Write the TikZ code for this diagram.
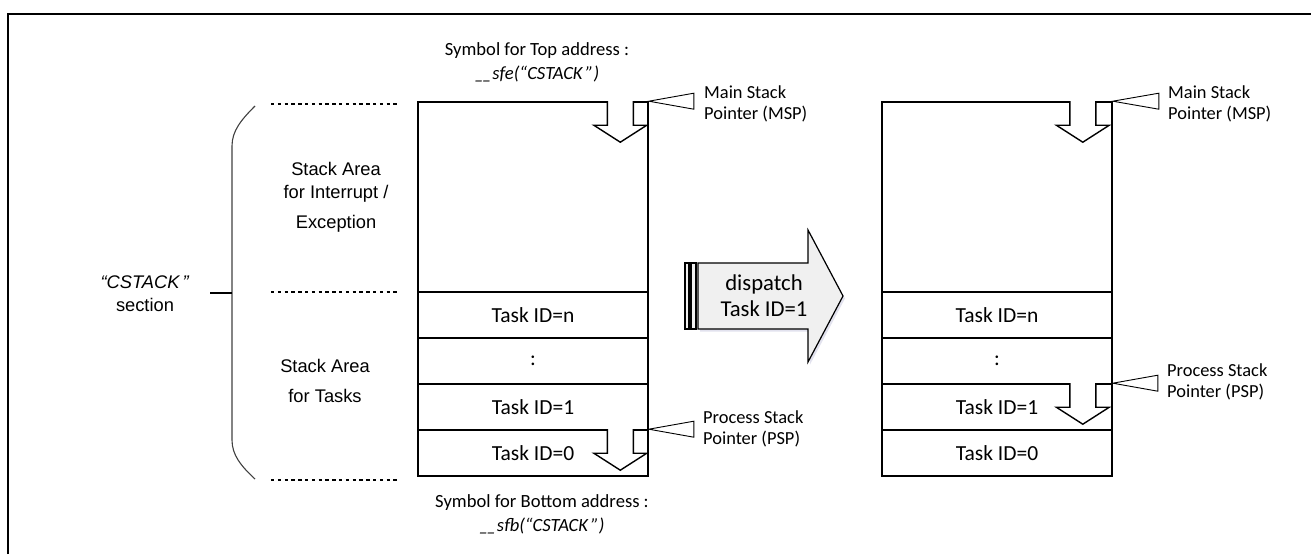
\documentclass[tikz,border=0pt]{standalone}
\usepackage{fontspec}
\setmainfont{Carlito}
\newfontfamily\arialf{Liberation Sans}
\usetikzlibrary{calc,shadows}
\newcommand\dunder{\_\kern-1.5pt\_\kern0.5pt}
\tikzset{
  cell/.style={draw, line width=1.6pt, minimum width=230pt, minimum height=46pt, inner sep=0pt, font=\fontsize{21.5}{24}\selectfont},
  topcell/.style={cell, minimum height=190pt},
  callout/.style={draw, line width=0.9pt, fill=white, line join=miter},
  lbl/.style={align=left, anchor=west, inner sep=0pt, font=\fontsize{18.4}{21}\selectfont},
  symtxt/.style={align=center, inner sep=0pt, font=\fontsize{18.6}{24}\selectfont},
  areatxt/.style={align=center, inner sep=0pt, font=\arialf\fontsize{18.3}{23}\selectfont},
  dotline/.style={line width=2pt, dash pattern=on 3.4pt off 3.4pt},
  blockarrow/.style={draw, line width=1.4pt, fill=white, line join=miter},
  downarr/.pic={\path[blockarrow] (-13,0) -- (-13,24) -- (-26.5,24) -- (0,41) -- (26.5,24) -- (13,24) -- (13,0);},
  bracestyle/.style={draw=black!75, line width=1.1pt},
  dispfill/.style={draw, line width=1.2pt, fill=black!6, line join=miter},
}
\begin{document}
\begin{tikzpicture}[x=1pt,y=-1pt]
\useasboundingbox (0,0) rectangle (1311,554);
% frame
\draw[line width=2.6pt] (8,554) -- (8,14) -- (1311,14);

% left stack
\node[topcell] (ltop) at (533,197) {};
\node[cell] (ln) at (533,315) {Task ID=n};
\node[cell] (ld) at (533,361) {:};
\node[cell] (l1) at (533,407) {Task ID=1};
\node[cell] (l0) at (533,453) {Task ID=0};

% right stack
\node[topcell] (rtop) at (997,197) {};
\node[cell] (rn) at (997,315) {Task ID=n};
\node[cell] (rd) at (997,361) {:};
\node[cell] (r1) at (997,407) {Task ID=1};
\node[cell] (r0) at (997,453) {Task ID=0};

% stack pointer arrows
\pic at ($(ltop.north east)+(-28.5,0)$) {downarr};
\pic at ($(l0.north east)+(-28.5,0)$) {downarr};
\pic at ($(rtop.north east)+(-30,0)$) {downarr};
\pic at ($(r1.north east)+(-30,0)$) {downarr};

% callouts
\draw[callout] (ltop.north east) -- ++(45,-8) -- ++(0,16) -- cycle;
\node[lbl] (lmsp) at (704,103.5) {Main Stack\\Pointer (MSP)};
\draw[callout] (l0.north east) -- ++(45,-8) -- ++(0,16) -- cycle;
\node[lbl] (lpsp) at (703,428.5) {Process Stack\\Pointer (PSP)};
\draw[callout] (rtop.north east) -- ++(46,-8) -- ++(0,16) -- cycle;
\node[lbl] (rmsp) at (1168,103.5) {Main Stack\\Pointer (MSP)};
\draw[callout] (r1.north east) -- ++(45,-8) -- ++(0,16) -- cycle;
\node[lbl] (rpsp) at (1167,382) {Process Stack\\Pointer (PSP)};

% symbols
\node[symtxt] (topsym) at (537,62) {Symbol for Top address :\\\textit{\dunder sfe(“CSTACK\,”)}};
\node[symtxt] (botsym) at (542,514) {Symbol for Bottom address :\\\textit{\dunder sfb(“CSTACK\,”)}};

% dotted lines
\draw[dotline] (271,104) -- (400,104);
\draw[dotline] (271,292) -- (400,292);
\draw[dotline] (271,480) -- (400,480);

% area texts
\node[areatxt] (intarea) at (336,197) {Stack Area\\for Interrupt /\\[7pt]Exception};
\node[areatxt] (taskarea) at (325,381) {Stack Area\\[7pt]for Tasks};

% brace
\draw[bracestyle] (255,106) .. controls (241,120) and (232,131) .. (232,146) -- (232,440) .. controls (232,455) and (241,466) .. (255,479);
\coordinate (bmid) at (232,293);
\coordinate (btick) at (210,293);
\draw[line width=2pt] (bmid) -- (btick);
\node[areatxt] (cstack) at (145,294) {\textit{“CSTACK\,”}\\section};

% dispatch arrow
\path[dispfill, drop shadow={opacity=0.18, fill=blue!25!gray, shadow xshift=2pt, shadow yshift=-2.5pt}] (698,263) -- (808,263) -- (808,230) -- (843,296) -- (808,362) -- (808,329) -- (698,329) -- cycle;
\draw[dispfill] (685,263) rectangle (689,329);
\draw[dispfill] (691,263) rectangle (696,329);
\node[align=center, inner sep=0pt, font=\fontsize{22.7}{26}\selectfont] (disp) at (764,296) {dispatch\\Task ID=1};
\end{tikzpicture}
\end{document}
